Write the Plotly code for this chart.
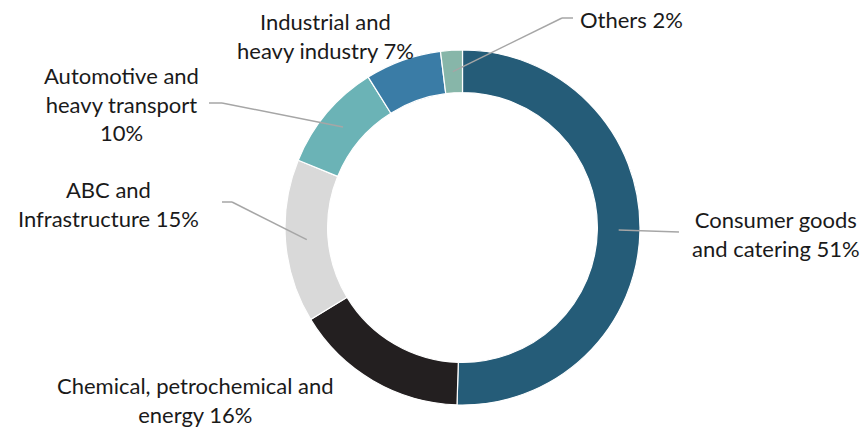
import math
import plotly.graph_objects as go

# ---- data ----
categories = [
    "Consumer goods and catering",
    "Chemical, petrochemical and energy",
    "ABC and Infrastructure",
    "Automotive and heavy transport",
    "Industrial and heavy industry",
    "Others",
]
shares = [51, 16, 15, 10, 7, 2]
label_texts = [
    "Consumer goods<br>and catering 51%",
    "Chemical, petrochemical and<br>energy 16%",
    "ABC and<br>Infrastructure 15%",
    "Automotive and<br>heavy transport<br>10%",
    "Industrial and<br>heavy industry 7%",
    "Others 2%",
]
colors = ["#255C78", "#231F20", "#D9D9D9", "#6BB3B6", "#3A7CA6", "#87B6A9"]

# ---- layout (pixels in the window) ----
W, H = 864, 429
CX, CY, R = 462.5, 227.5, 177.5
HOLE = 0.76
FONT = "Lato"
FS = 22

# label centre (px) and leader elbows (px) per slice; None = no leader line
label_pos = [(776, 234), (195, 400), (108, 204), (122, 103.5), (325, 35.5), (631, 20)]
leaders = [
    [(679, 232)],
    None,
    [(232, 202), (222, 202)],
    [(222, 103), (209, 103)],
    None,
    [(562, 18), (573, 18)],
]

def px(x):
    return x / W

def py(y):
    return 1 - y / H

fig = go.Figure(
    go.Pie(
        labels=categories,
        values=shares,
        hole=HOLE,
        sort=False,
        direction="clockwise",
        rotation=0,
        marker=dict(colors=colors, line=dict(color="white", width=1.2)),
        textinfo="none",
        hoverinfo="label+percent",
        showlegend=False,
        domain=dict(x=[px(CX - R), px(CX + R)], y=[py(CY + R), py(CY - R)]),
    )
)

total = sum(shares)
cum = 0
shapes = []
annotations = []
rmid = R * (1 + HOLE) / 2
for i, v in enumerate(shares):
    mid = (cum + v / 2) / total * 2 * math.pi
    cum += v
    ax = CX + rmid * math.sin(mid)
    ay = CY - rmid * math.cos(mid)
    if leaders[i]:
        pts = [(ax, ay)] + leaders[i]
        for (x0, y0), (x1, y1) in zip(pts[:-1], pts[1:]):
            shapes.append(dict(type="line", xref="paper", yref="paper",
                               x0=px(x0), y0=py(y0), x1=px(x1), y1=py(y1),
                               line=dict(color="#A6A6A6", width=1.5)))
    lx, ly = label_pos[i]
    annotations.append(dict(
        text=label_texts[i], x=px(lx), y=py(ly), xref="paper", yref="paper",
        xanchor="center", yanchor="middle", align="center", showarrow=False,
        font=dict(family=FONT, size=FS, color="#1A1A1A"),
    ))

fig.update_layout(
    width=W, height=H,
    margin=dict(l=0, r=0, t=0, b=0),
    paper_bgcolor="white", plot_bgcolor="white",
    shapes=shapes, annotations=annotations,
)

fig.write_html(
    "out.html",
    config={"displayModeBar": False},
    post_script="document.body.style.margin='0';document.body.style.overflow='hidden';",
)
